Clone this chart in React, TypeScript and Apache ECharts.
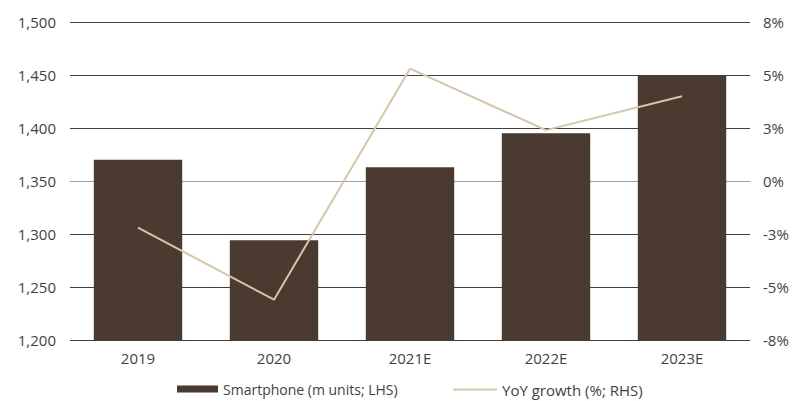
import React, { useEffect, useRef } from "react";
import * as echarts from "echarts";

const categories = ["2019", "2020", "2021E", "2022E", "2023E"];
const smartphoneUnits = [1370, 1294, 1363, 1395, 1450];
const yoyGrowth = [-2.2, -5.6, 5.3, 2.4, 4.0];

const BAR_NAME = "Smartphone (m units; LHS)";
const LINE_NAME = "YoY growth (%; RHS)";

export default function App() {
  const ref = useRef<HTMLDivElement>(null);
  useEffect(() => {
    if (!ref.current) return;
    const chart = echarts.init(ref.current, null, { renderer: "svg" });
    const font = "Open Sans";
    const labelColor = "#3f3f46";
    chart.setOption({
      animation: false,
      textStyle: { fontFamily: font },
      grid: { left: 70, right: 48, top: 22, bottom: 61 },
      legend: [
        {
          left: 177,
          top: 382,
          padding: 0,
          itemWidth: 41,
          itemHeight: 7,
          itemGap: 4,
          textStyle: { fontFamily: font, fontSize: 14, color: labelColor },
          data: [{ name: BAR_NAME, icon: "rect" }],
        },
        {
          left: 453,
          top: 382,
          padding: 0,
          itemWidth: 44,
          itemHeight: 2,
          itemGap: 4,
          textStyle: { fontFamily: font, fontSize: 15, color: labelColor },
          data: [{ name: LINE_NAME, icon: "rect" }],
        },
      ],
      xAxis: {
        type: "category",
        data: categories,
        axisLine: { show: true, lineStyle: { color: "#a0a0a0", width: 1 } },
        axisTick: { show: false },
        axisLabel: { color: labelColor, fontSize: 15, margin: 10, fontFamily: font },
      },
      yAxis: [
        {
          type: "value",
          min: 1200,
          max: 1500,
          interval: 50,
          axisLine: { show: false },
          axisTick: { show: false },
          splitLine: { show: true, lineStyle: { color: "#404040", width: 1 } },
          axisLabel: {
            color: labelColor,
            fontSize: 15,
            margin: 14,
            fontFamily: font,
            formatter: (v: number) => v.toLocaleString("en-US"),
          },
        },
        {
          type: "value",
          min: -7.5,
          max: 7.5,
          interval: 2.5,
          axisLine: { show: false },
          axisTick: { show: false },
          splitLine: { show: false },
          axisLabel: {
            color: labelColor,
            fontSize: 15,
            margin: 13,
            fontFamily: font,
            formatter: (v: number) => {
              const r = Math.round(Math.abs(v));
              return (v < 0 && r !== 0 ? "-" : "") + r + "%";
            },
          },
        },
      ],
      series: [
        {
          name: BAR_NAME,
          type: "bar",
          data: smartphoneUnits,
          barCategoryGap: "35%",
          itemStyle: { color: "#4b3a2f" },
          yAxisIndex: 0,
          z: 3,
        },
        {
          name: LINE_NAME,
          type: "line",
          data: yoyGrowth,
          yAxisIndex: 1,
          symbol: "none",
          lineStyle: { color: "#d6c6a6", width: 2 },
          itemStyle: { color: "#d6c6a6" },
          z: 4,
        },
      ],
    });
    return () => chart.dispose();
  }, []);
  return <div ref={ref} style={{ width: 798, height: 401, position: "absolute", left: 0, top: 0 }} />;
}
